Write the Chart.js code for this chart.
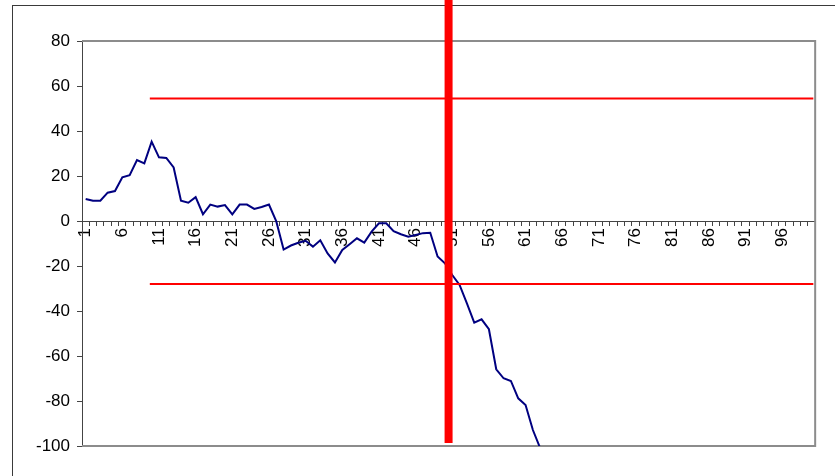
<!DOCTYPE html>
<html>
<head>
<meta charset="utf-8">
<script src="https://cdn.jsdelivr.net/npm/chart.js@4"></script>
<style>
  html, body { margin: 0; padding: 0; background: #fff; overflow: hidden; }
  #wrap { position: relative; width: 835px; height: 476px; overflow: hidden; }
  #frame { position: absolute; left: 12px; top: 5px; width: 900px; height: 600px; border: 1px solid #3a3a3a; }
  #chart { position: absolute; left: 0; top: 0; }
</style>
</head>
<body>
<div id="wrap">
  <div id="frame"></div>
  <canvas id="chart" width="835" height="476"></canvas>
</div>
<script>
// category labels 1..100, only every 5th one is shown
const categories = [];
for (let i = 1; i <= 100; i++) categories.push(String(i));

const seriesValues = [
    9.8, 9.0, 9.0, 12.6, 13.3, 19.4, 20.4, 27.1, 25.6, 35.3,
    28.3, 28.0, 23.8, 9.0, 8.1, 10.6, 3.0, 7.3, 6.4, 7.1,
    3.0, 7.3, 7.3, 5.4, 6.2, 7.3, -0.2, -12.7, -10.9, -9.7,
    -8.8, -11.4, -8.6, -14.4, -18.4, -12.9, -10.3, -7.7, -9.6, -4.7,
    -1.0, -1.0, -4.5, -5.9, -7.0, -6.2, -5.4, -5.2, -15.8, -18.8,
    -24.0, -28.4, -36.6, -45.2, -43.7, -48.1, -65.9, -69.9, -71.1, -78.8,
    -81.8, -92.9, -101.0
];

// red limit lines and the marker
const upperLimit = 54.5;
const lowerLimit = -28;
const limitStart = 9.75;
const limitEnd = 100.25;
const markerX = 50.5;
const markerBottom = -98.7;
const markerTop = 100;

const yMin = -100;
const yMax = 80;
const yStep = 20;
const labelEvery = 5;

const plotFrame = {
    id: 'plotFrame',
    beforeDatasetsDraw(chart) {
        const { ctx, chartArea: a } = chart;
        ctx.save();
        ctx.strokeStyle = '#8c8c8c';
        ctx.lineWidth = 2;
        ctx.beginPath();
        ctx.moveTo(a.left, a.top);
        ctx.lineTo(a.right, a.top);
        ctx.lineTo(a.right, a.bottom);
        ctx.lineTo(a.left, a.bottom);
        ctx.stroke();
        ctx.restore();
    }
};

const font = { family: 'Liberation Sans, Arial, sans-serif', size: 17 };

new Chart(document.getElementById('chart'), {
    type: 'line',
    data: {
        labels: categories,
        datasets: [
            {
                data: seriesValues,
                borderColor: '#000080',
                borderWidth: 2,
                pointRadius: 0,
                tension: 0,
                xAxisID: 'x',
                yAxisID: 'y',
                order: 3
            },
            {
                data: [{ x: limitStart, y: upperLimit }, { x: limitEnd, y: upperLimit }],
                borderColor: '#ff0000',
                borderWidth: 2,
                pointRadius: 0,
                xAxisID: 'x2',
                yAxisID: 'y',
                order: 2
            },
            {
                data: [{ x: limitStart, y: lowerLimit }, { x: limitEnd, y: lowerLimit }],
                borderColor: '#ff0000',
                borderWidth: 2,
                pointRadius: 0,
                xAxisID: 'x2',
                yAxisID: 'y',
                order: 2
            },
            {
                data: [{ x: markerX, y: markerBottom }, { x: markerX, y: markerTop }],
                borderColor: '#ff0000',
                borderWidth: 8,
                borderCapStyle: 'butt',
                pointRadius: 0,
                xAxisID: 'x2',
                yAxisID: 'y',
                clip: false,
                order: 1
            }
        ]
    },
    options: {
        responsive: false,
        animation: false,
        layout: { padding: { left: 0, top: 41, right: 17, bottom: 30 } },
        plugins: {
            legend: { display: false },
            tooltip: { enabled: false }
        },
        scales: {
            x: {
                type: 'category',
                position: { y: 0 },
                offset: true,
                grid: { offset: true, drawOnChartArea: false, tickLength: 4, color: '#444' },
                border: { display: true, color: '#444', width: 1 },
                ticks: {
                    autoSkip: false,
                    minRotation: 90,
                    maxRotation: 90,
                    padding: 3,
                    color: '#000',
                    font: font,
                    callback: function (value, index) {
                        return index % labelEvery === 0 ? this.getLabelForValue(value) : '';
                    }
                }
            },
            x2: {
                type: 'linear',
                display: false,
                min: 0.5,
                max: 100.5
            },
            y: {
                min: yMin,
                max: yMax,
                afterFit: function (scale) { scale.width = 82; },
                grid: { drawOnChartArea: false, tickLength: 5, color: '#444' },
                border: { display: true, color: '#444', width: 1 },
                ticks: {
                    stepSize: yStep,
                    padding: 7,
                    color: '#000',
                    font: font,
                    callback: value => String(value)
                }
            }
        }
    },
    plugins: [plotFrame]
});
</script>
</body>
</html>
